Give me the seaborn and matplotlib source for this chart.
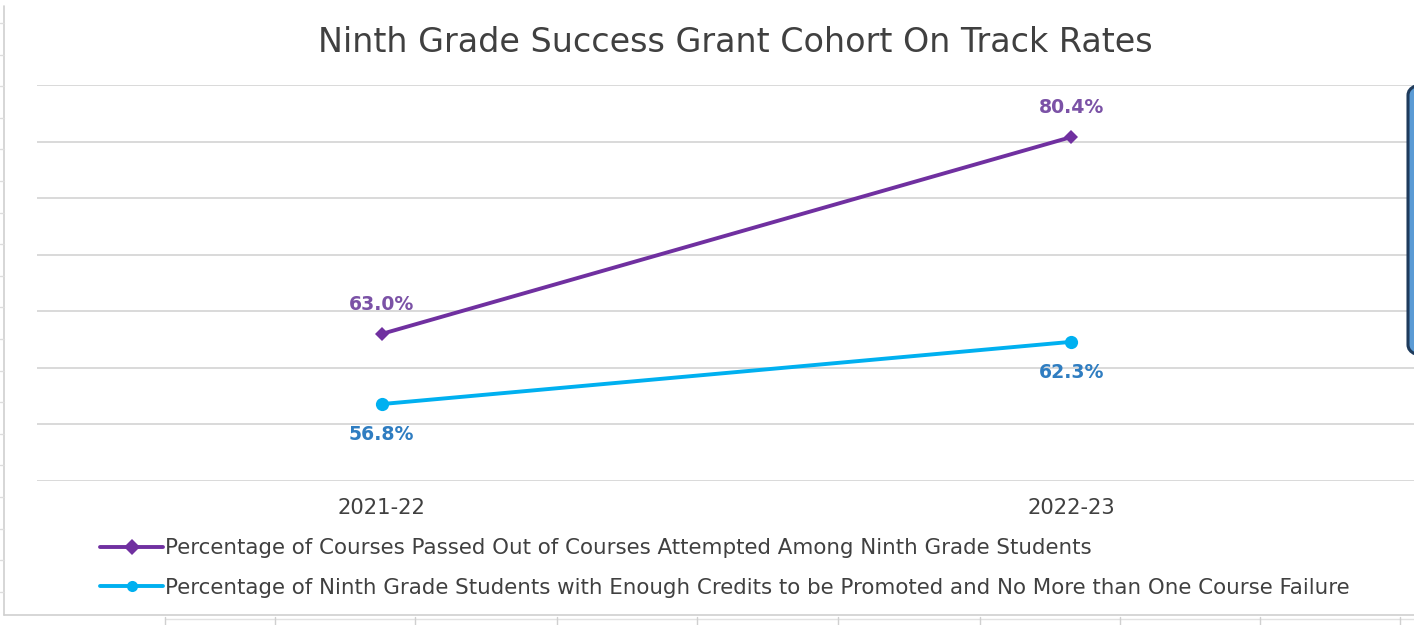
import matplotlib
matplotlib.use("Agg")
import matplotlib.pyplot as plt
from matplotlib.lines import Line2D
from matplotlib.patches import FancyBboxPatch
import seaborn as sns
import pandas as pd

# ---- data ----
years = ["2021-22", "2022-23"]
courses_passed = [63.0, 80.4]
promoted_students = [56.8, 62.3]
series_names = [
    "Percentage of Courses Passed Out of Courses Attempted Among Ninth Grade Students",
    "Percentage of Ninth Grade Students with Enough Credits to be Promoted and No More than One Course Failure",
]
title = "Ninth Grade Success Grant Cohort On Track Rates"

purple = "#7030A0"
cyan = "#00B0F0"
label_colors = ["#7B52A6", "#2F7DC1"]

df = pd.DataFrame({
    "year": years * 2,
    "value": courses_passed + promoted_students,
    "series": [series_names[0]] * 2 + [series_names[1]] * 2,
})
df["x"] = df["year"].map({y: i for i, y in enumerate(years)})

sns.set_theme(style="white")
plt.rcParams["font.family"] = ["DejaVu Sans"]

W, H = 1414, 625
fig = plt.figure(figsize=(W / 100, H / 100), dpi=100)
fig.patch.set_facecolor("white")


def fx(px):
    return px / W


def fy(py):
    return 1 - py / H


ax = fig.add_axes([fx(37), fy(481), fx(1416 - 37), (481 - 85) / H])

sns.lineplot(
    data=df, x="x", y="value", hue="series", style="series",
    palette=[purple, cyan], markers=["D", "o"], dashes=False,
    linewidth=2.8, markersize=8, markeredgewidth=0, ax=ax, legend=True,
)
for line, ms in zip(ax.lines, [7, 9.5]):
    line.set_markersize(ms)

ax.set_xlim(-0.5, 1.5)
ax.set_ylim(50, 85)
ax.set_yticks(range(50, 86, 5))
ax.set_yticklabels([])
ax.set_xticks(range(len(years)))
ax.set_xticklabels(years, fontsize=15.2, color="#404040")
ax.tick_params(axis="x", length=0, pad=12)
ax.tick_params(axis="y", length=0)
ax.set_xlabel("")
ax.set_ylabel("")
ax.grid(axis="y", color="#D9D9D9", linewidth=1.4)
ax.set_axisbelow(True)
for s in ax.spines.values():
    s.set_visible(False)

# value labels: purple above, cyan below
for i, v in enumerate(courses_passed):
    ax.annotate(f"{v:.1f}%", (i, v), xytext=(0, 21), textcoords="offset points",
                ha="center", va="center", fontsize=13.6, fontweight="bold",
                color=label_colors[0])
for i, v in enumerate(promoted_students):
    ax.annotate(f"{v:.1f}%", (i, v), xytext=(0, -22), textcoords="offset points",
                ha="center", va="center", fontsize=13.6, fontweight="bold",
                color=label_colors[1])

# legend below the plot
handles, labels = ax.get_legend_handles_labels()
ax.get_legend().remove()
fig.legend(handles, labels, loc="center left", bbox_to_anchor=(fx(100), fy(568)),
           frameon=False, fontsize=15.4, handlelength=2.95, handletextpad=0.1,
           labelspacing=0.92, borderpad=0, borderaxespad=0, labelcolor="#404040")

fig.text(fx(735), fy(42), title, ha="center", va="center", fontsize=24, color="#404040")

# chart frame and sheet cell lines
frame = "#D0D0D0"
fig.add_artist(Line2D([fx(4), fx(4)], [fy(6), fy(615)], color=frame, lw=1.2))
fig.add_artist(Line2D([fx(4), 1], [fy(615), fy(615)], color=frame, lw=1.2))
fig.add_artist(Line2D([fx(165), 1], [fy(619), fy(619)], color="#E2E2E2", lw=1.0))
for cx in [165, 275, 415, 557, 697, 838, 980, 1120, 1260, 1400]:
    fig.add_artist(Line2D([fx(cx), fx(cx)], [fy(617), 0], color=frame, lw=1.0))
ty = 23
while ty < 612:
    fig.add_artist(Line2D([0, fx(4)], [fy(ty), fy(ty)], color="#DDDDDD", lw=1.0))
    ty += 31.6

# rounded callout box at the right edge
box = FancyBboxPatch((fx(1408), fy(357)), fx(60), (357 - 83) / H,
                     boxstyle="round,pad=0,rounding_size=0.02",
                     transform=fig.transFigure, facecolor="#5B9BD5",
                     edgecolor="#1F3B5C", linewidth=2.2, mutation_aspect=H / W * 2.2)
fig.add_artist(box)

fig.savefig("out.png", dpi=100)
